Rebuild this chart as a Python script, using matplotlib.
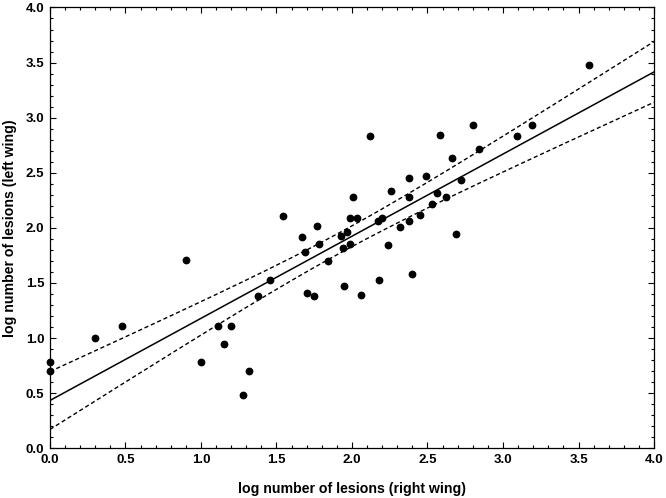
import numpy as np
import matplotlib
matplotlib.use("Agg")
import matplotlib.pyplot as plt
from matplotlib.ticker import MultipleLocator

right_wing = [0.00, 0.00, 0.30, 0.48, 0.90, 1.00, 1.11, 1.15, 1.20, 1.28, 1.32, 1.38,
              1.46, 1.54, 1.67, 1.69, 1.70, 1.75, 1.77, 1.78, 1.84, 1.93, 1.94, 1.95,
              1.97, 1.99, 1.99, 2.01, 2.03, 2.06, 2.12, 2.17, 2.18, 2.20, 2.24, 2.26,
              2.32, 2.38, 2.38, 2.38, 2.40, 2.45, 2.49, 2.53, 2.56, 2.58, 2.62, 2.66,
              2.69, 2.72, 2.80, 2.84, 3.09, 3.19, 3.57]
left_wing = [0.78, 0.70, 1.00, 1.11, 1.71, 0.78, 1.11, 0.95, 1.11, 0.48, 0.70, 1.38,
             1.53, 2.11, 1.92, 1.78, 1.41, 1.38, 2.02, 1.85, 1.70, 1.93, 1.82, 1.47,
             1.96, 1.85, 2.09, 2.28, 2.09, 1.39, 2.83, 2.06, 1.53, 2.09, 1.84, 2.33,
             2.01, 2.45, 2.28, 2.06, 1.58, 2.12, 2.47, 2.22, 2.32, 2.84, 2.28, 2.63,
             1.94, 2.43, 2.93, 2.72, 2.83, 2.93, 3.48]

x = np.array(right_wing)
y = np.array(left_wing)
n = len(x)
slope, intercept = np.polyfit(x, y, 1)
resid = y - (intercept + slope * x)
s = np.sqrt(np.sum(resid**2) / (n - 2))
xm = x.mean()
sxx = np.sum((x - xm)**2)
tval = 2.005
xs = np.linspace(0, 4, 200)
yfit = intercept + slope * xs
half = tval * s * np.sqrt(1.0 / n + (xs - xm)**2 / sxx)

plt.rcParams['font.family'] = ['Liberation Sans', 'DejaVu Sans']
fig = plt.figure(figsize=(6.66, 4.98), dpi=100)
ax = fig.add_axes([0.075, 0.100, 0.907, 0.885])
ax.plot(xs, yfit, color='black', lw=1.1)
ax.plot(xs, yfit + half, color='black', lw=1.0, ls=(0, (3, 2)))
ax.plot(xs, yfit - half, color='black', lw=1.0, ls=(0, (3, 2)))
ax.plot(x, y, 'o', color='black', ms=4.6, clip_on=False, zorder=3)
ax.set_xlim(0, 4)
ax.set_ylim(0, 4)
ax.xaxis.set_major_locator(MultipleLocator(0.5))
ax.yaxis.set_major_locator(MultipleLocator(0.5))
ax.xaxis.set_minor_locator(MultipleLocator(0.1))
ax.yaxis.set_minor_locator(MultipleLocator(0.1))
ax.xaxis.set_major_formatter(matplotlib.ticker.FormatStrFormatter('%.1f'))
ax.yaxis.set_major_formatter(matplotlib.ticker.FormatStrFormatter('%.1f'))
ax.tick_params(which='both', direction='in', top=True, right=True, width=0.8)
ax.tick_params(which='major', length=4, labelsize=9.5, pad=4)
ax.tick_params(which='minor', length=2)
for lbl in ax.get_xticklabels() + ax.get_yticklabels():
    lbl.set_fontweight('bold')
for sp in ax.spines.values():
    sp.set_linewidth(0.9)
ax.set_xlabel('log number of lesions (right wing)', fontsize=10.2, fontweight='bold', labelpad=12)
ax.set_ylabel('log number of lesions (left wing)', fontsize=10.2, fontweight='bold', labelpad=6)
fig.savefig('out.png', dpi=100)
